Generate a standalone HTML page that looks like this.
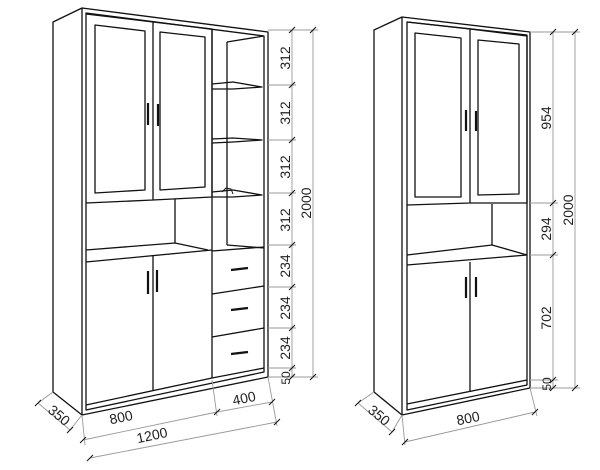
<!DOCTYPE html>
<html><head><meta charset="utf-8"><style>
html,body{margin:0;padding:0;background:#fff;width:600px;height:470px;overflow:hidden}
svg{display:block}
text{font-family:"Liberation Sans",sans-serif;font-size:14px;fill:#222}
</style></head><body>
<svg width="600" height="470" viewBox="0 0 600 470" xmlns="http://www.w3.org/2000/svg">
<g fill="none" stroke="#111" stroke-width="1.3" stroke-linejoin="round">
<!-- LEFT CABINET -->
<path d="M53,22 L82,8 L268,32 L268,377 L82,415 L53,392 Z"/>
<path d="M82,8 L82,415"/>
<path d="M86,13 L264,36 L264,372 L86,410 Z"/>
<path d="M86,14 L153,22 L153,200 L86,203"/>
<path d="M153,22 L212,29 L212,197 L153,200"/>
<path d="M95,25 L145,31 L145,190 L95,193 Z"/>
<path d="M160,32 L205,37 L205,187 L160,190 Z"/>
<path d="M212,29 L212,378"/>
<path d="M227,42 L264,36 M227,42 L227,245"/>
<path d="M212,84 L233,82 L262,87 L233,89 L212,89"/>
<path d="M212,139 L233,138 L262,140 L233,142 L212,143"/>
<path d="M212,192 L233,190 L262,195 L233,197 L212,197"/>
<path d="M222,192 l4,-4 l5,1 l2,5" stroke-width="1"/>
<path d="M175,199 L175,243"/>
<path d="M86,250 L175,243 L208,250"/>
<path d="M86,262 L212,250"/>
<path d="M227,245 L264,248"/>
<path d="M153,256 L153,391"/>
<path d="M86,405 L212,378"/>
<path d="M212,251 L264,247 M212,294 L264,286 M212,337 L264,328 M212,378 L264,368"/>
<g stroke-width="2.2">
<path d="M148,103 L148,125 M158,104 L158,126"/>
<path d="M148,271 L148,294 M157,270 L157,292"/>
<path d="M231,270 L248,268 M231,310 L248,308 M231,354 L248,352"/>
<path d="M466,110 L466,131 M476,111 L476,131"/>
<path d="M466,277 L466,298 M476,277 L476,297"/>
</g>
<!-- RIGHT CABINET -->
<path d="M374,30 L402,17 L530,32 L530,388 L402,415 L374,392 Z"/>
<path d="M402,17 L402,415"/>
<path d="M407,22 L527,35 L527,385 L407,410 Z"/>
<path d="M407,22 L470,29 L470,203 L407,205"/>
<path d="M470,29 L527,36 L527,203 L470,203"/>
<path d="M415,33 L461,38 L461,197 L415,197 Z"/>
<path d="M478,40 L519,44 L519,194 L478,195 Z"/>
<path d="M492,204 L492,245"/>
<path d="M407,255 L492,245 L527,255"/>
<path d="M407,265 L527,255"/>
<path d="M470,262 L470,392"/>
<path d="M407,404 L527,380"/>
</g>
<g fill="none" stroke="#999" stroke-width="0.9">
<path d="M268,30 H318 M268,85 H296 M268,140 H296 M268,193 H296 M268,245 H296 M268,287 H296 M268,328 H296 M268,368 H296 M268,377 H318"/>
<path d="M292,30 V377 M313,30 V377"/>
<path d="M53,392 L38,403 M82,415 L70,430 M38,403 L70,430"/>
<path d="M82,415 L85,445 M212,380 L217,416 M268,377 L277,426"/>
<path d="M83,440 L217,412 L272,402 M90,458 L277,422"/>
<path d="M530,32 H580 M530,203 H558 M530,255 H558 M530,380 H558 M530,388 H580"/>
<path d="M553,32 V388 M575,32 V388"/>
<path d="M374,392 L358,403 M402,415 L392,432 M358,403 L392,432"/>
<path d="M402,415 L405,445 M530,388 L537,416 M405,442 L535,412"/>
</g>
<g stroke="#111" stroke-width="1">
<path d="M289,33 l6,-6 M289,88 l6,-6 M289,143 l6,-6 M289,196 l6,-6 M289,248 l6,-6 M289,290 l6,-6 M289,331 l6,-6 M289,371 l6,-6 M289,380 l6,-6 M310,33 l6,-6 M310,380 l6,-6"/>
<path d="M550,35 l6,-6 M550,206 l6,-6 M550,258 l6,-6 M550,383 l6,-6 M550,391 l6,-6 M572,35 l6,-6 M572,391 l6,-6"/>
<path d="M80,443 l6,-6 M214,415 l6,-6 M269,405 l6,-6 M87,461 l6,-6 M274,425 l6,-6 M35,406 l6,-6 M67,433 l6,-6"/>
<path d="M402,445 l6,-6 M532,415 l6,-6 M355,406 l6,-6 M389,435 l6,-6"/>
</g>
<g>
<text transform="translate(290,58) rotate(-90)" text-anchor="middle">312</text>
<text transform="translate(290,113) rotate(-90)" text-anchor="middle">312</text>
<text transform="translate(290,167) rotate(-90)" text-anchor="middle">312</text>
<text transform="translate(290,220) rotate(-90)" text-anchor="middle">312</text>
<text transform="translate(290,266) rotate(-90)" text-anchor="middle">234</text>
<text transform="translate(290,308) rotate(-90)" text-anchor="middle">234</text>
<text transform="translate(290,348) rotate(-90)" text-anchor="middle">234</text>
<text transform="translate(290,378) rotate(-90)" text-anchor="middle" style="font-size:12px">50</text>
<text transform="translate(311,203) rotate(-90)" text-anchor="middle">2000</text>
<text transform="translate(56,419) rotate(40)" text-anchor="middle">350</text>
<text transform="translate(122,422) rotate(-12)" text-anchor="middle">800</text>
<text transform="translate(245,403) rotate(-12)" text-anchor="middle">400</text>
<text transform="translate(153,440) rotate(-12)" text-anchor="middle">1200</text>
<text transform="translate(551,118) rotate(-90)" text-anchor="middle">954</text>
<text transform="translate(551,229) rotate(-90)" text-anchor="middle">294</text>
<text transform="translate(551,318) rotate(-90)" text-anchor="middle">702</text>
<text transform="translate(551,384) rotate(-90)" text-anchor="middle" style="font-size:12px">50</text>
<text transform="translate(573,210) rotate(-90)" text-anchor="middle">2000</text>
<text transform="translate(376,419) rotate(40)" text-anchor="middle">350</text>
<text transform="translate(469,423) rotate(-12)" text-anchor="middle">800</text>
</g>
</svg>
</body></html>
